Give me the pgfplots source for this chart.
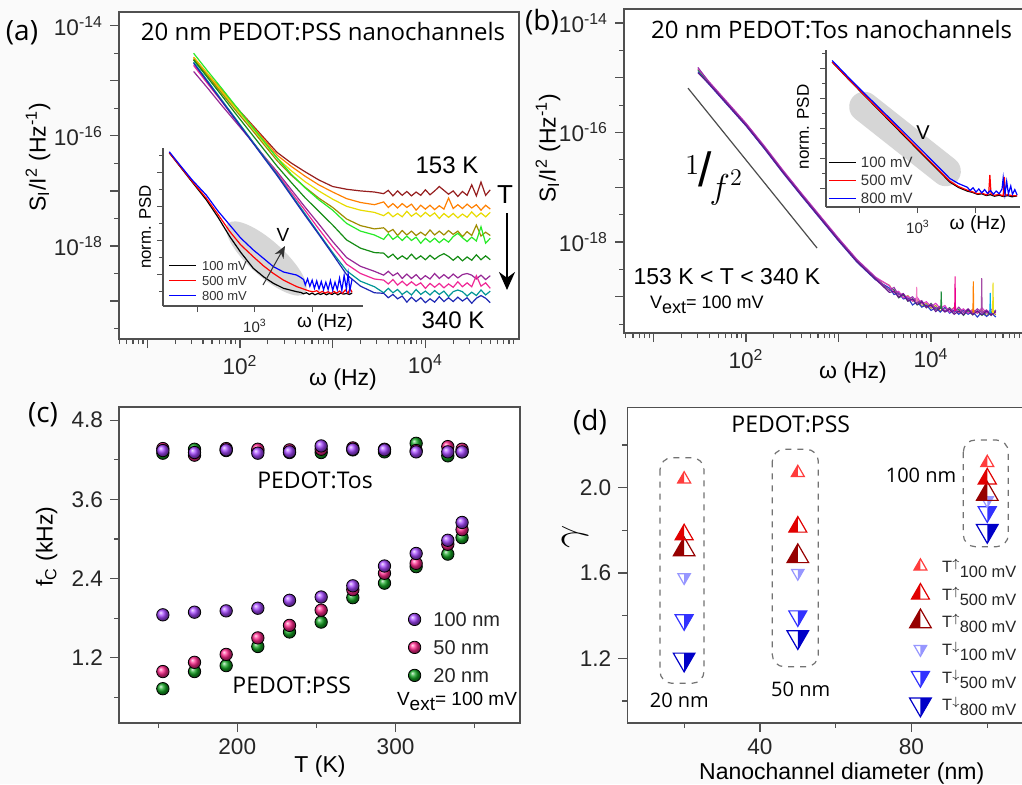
\documentclass[border=0pt]{standalone}
\usepackage{fontspec}
\setmainfont{Liberation Sans}
\newfontfamily\osans{Open Sans}
\usepackage{pgfplots}
\usepackage{pgfplotstable}
\pgfplotsset{compat=1.18}
\usetikzlibrary{arrows.meta,shapes.geometric}
\newcommand{\fs}[1]{\fontsize{#1}{#1}\selectfont}

\definecolor{axgray}{RGB}{80,80,80}
\definecolor{ca1}{RGB}{150,30,30}
\definecolor{ca2}{RGB}{255,128,0}
\definecolor{ca3}{RGB}{232,220,0}
\definecolor{ca4}{RGB}{160,140,0}
\definecolor{ca5}{RGB}{40,235,40}
\definecolor{ca6}{RGB}{20,140,20}
\definecolor{ca7}{RGB}{150,40,150}
\definecolor{ca8}{RGB}{240,40,150}
\definecolor{ca9}{RGB}{0,150,150}
\definecolor{ca10}{RGB}{30,40,180}
\definecolor{cb1}{RGB}{150,50,170}
\definecolor{cb2}{RGB}{40,60,200}
\definecolor{cb3}{RGB}{30,140,60}
\definecolor{cb4}{RGB}{220,60,200}
\definecolor{cb5}{RGB}{100,20,140}
\definecolor{cb6}{RGB}{190,150,40}
\definecolor{cpur}{RGB}{165,70,255}
\definecolor{cpink}{RGB}{255,40,140}
\definecolor{cgrn}{RGB}{20,165,35}
\definecolor{u1}{RGB}{255,60,60}
\definecolor{u5}{RGB}{225,0,0}
\definecolor{u8}{RGB}{150,0,0}
\definecolor{d1}{RGB}{150,150,255}
\definecolor{d5}{RGB}{50,50,255}
\definecolor{d8}{RGB}{0,0,200}

% half filled triangles
\pgfdeclareplotmark{hup}{%
  \pgfpathmoveto{\pgfqpoint{0pt}{\pgfplotmarksize}}%
  \pgfpathlineto{\pgfqpoint{-0.866\pgfplotmarksize}{-0.5\pgfplotmarksize}}%
  \pgfpathlineto{\pgfqpoint{0pt}{-0.5\pgfplotmarksize}}%
  \pgfpathclose
  \pgfusepathqfill
  \pgfpathmoveto{\pgfqpoint{0pt}{\pgfplotmarksize}}%
  \pgfpathlineto{\pgfqpoint{-0.866\pgfplotmarksize}{-0.5\pgfplotmarksize}}%
  \pgfpathlineto{\pgfqpoint{0.866\pgfplotmarksize}{-0.5\pgfplotmarksize}}%
  \pgfpathclose
  \pgfusepathqstroke}
\pgfdeclareplotmark{hdown}{%
  \pgfpathmoveto{\pgfqpoint{0pt}{-\pgfplotmarksize}}%
  \pgfpathlineto{\pgfqpoint{0.866\pgfplotmarksize}{0.5\pgfplotmarksize}}%
  \pgfpathlineto{\pgfqpoint{0pt}{0.5\pgfplotmarksize}}%
  \pgfpathclose
  \pgfusepathqfill
  \pgfpathmoveto{\pgfqpoint{0pt}{-\pgfplotmarksize}}%
  \pgfpathlineto{\pgfqpoint{-0.866\pgfplotmarksize}{0.5\pgfplotmarksize}}%
  \pgfpathlineto{\pgfqpoint{0.866\pgfplotmarksize}{0.5\pgfplotmarksize}}%
  \pgfpathclose
  \pgfusepathqstroke}

\tikzset{px/.style={x=0.5pt,y=-0.5pt,shift={(0pt,392pt)}}}

\pgfplotsset{
  panel/.style={scale only axis, anchor=south west,
    axis line style={draw=axgray, line width=0.8pt},
    every tick/.style={draw=axgray, line width=0.6pt},
    tick align=outside, tick pos=left,
    major tick length=4.5pt, minor tick length=2.5pt,
    tick label style={font=\fs{11.3}, text=black!85},
    axis background/.style={fill=white}},
  inset/.style={scale only axis, anchor=south west,
    axis x line*=bottom, axis y line*=left,
    x axis line style={-}, y axis line style={-},
    axis line style={draw=axgray, line width=0.6pt},
    every tick/.style={draw=axgray, line width=0.5pt},
    tick align=outside,
    major tick length=3pt, minor tick length=1.8pt,
    tick label style={font=\fs{7.5}, text=black!85},
    legend cell align=left,
    legend image code/.code={\draw[#1, line width=0.8pt] (0pt,0pt) -- (13.5pt,0pt);}},
  ballc/.style={only marks, mark=ball, mark size=3.1pt, ball color=#1},
}

% (a) log10 of frequency vs log10 of S_I/I^2, 153 K ... 340 K
\pgfplotstableread{
x c1 c2 c3 c4 c5 c6 c7 c8 c9 c10
1.50 -14.62 -14.57 -14.58 -14.60 -14.50 -14.62 -14.83 -14.72 -14.66 -14.68
1.65 -14.90 -14.87 -14.88 -14.91 -14.82 -14.94 -15.13 -15.05 -15.00 -15.02
1.80 -15.18 -15.16 -15.19 -15.22 -15.13 -15.26 -15.44 -15.37 -15.34 -15.36
1.95 -15.46 -15.46 -15.49 -15.53 -15.45 -15.59 -15.74 -15.70 -15.68 -15.70
2.10 -15.74 -15.76 -15.79 -15.83 -15.77 -15.91 -16.04 -16.03 -16.02 -16.04
2.25 -16.02 -16.05 -16.10 -16.14 -16.08 -16.23 -16.35 -16.35 -16.36 -16.38
2.40 -16.30 -16.35 -16.40 -16.45 -16.40 -16.55 -16.65 -16.68 -16.70 -16.72
2.55 -16.49 -16.55 -16.63 -16.71 -16.69 -16.84 -16.97 -17.02 -17.06 -17.08
2.70 -16.65 -16.73 -16.83 -16.93 -16.94 -17.12 -17.29 -17.35 -17.41 -17.44
2.85 -16.80 -16.89 -17.00 -17.13 -17.16 -17.37 -17.60 -17.69 -17.77 -17.79
3.00 -16.92 -17.02 -17.15 -17.30 -17.35 -17.62 -17.92 -18.02 -18.12 -18.15
3.15 -16.97 -17.14 -17.28 -17.51 -17.59 -17.89 -18.21 -18.33 -18.45 -18.52
3.30 -17.00 -17.21 -17.35 -17.63 -17.73 -18.04 -18.37 -18.50 -18.64 -18.73
3.45 -17.02 -17.25 -17.39 -17.69 -17.80 -18.12 -18.46 -18.60 -18.74 -18.85
3.55 -17.05 -17.20 -17.45 -17.67 -17.88 -18.13 -18.53 -18.62 -18.85 -18.86
3.60 -16.99 -17.30 -17.39 -17.75 -17.78 -18.21 -18.46 -18.69 -18.77 -18.94
3.65 -17.09 -17.23 -17.47 -17.70 -17.88 -18.15 -18.54 -18.61 -18.85 -18.88
3.70 -17.00 -17.31 -17.41 -17.81 -17.82 -18.24 -18.49 -18.71 -18.79 -18.96
3.75 -17.08 -17.23 -17.47 -17.72 -17.90 -18.18 -18.59 -18.64 -18.88 -18.91
3.80 -17.01 -17.30 -17.37 -17.80 -17.82 -18.24 -18.51 -18.72 -18.82 -19.02
3.85 -17.09 -17.24 -17.46 -17.73 -17.90 -18.15 -18.59 -18.65 -18.89 -18.93
3.90 -17.02 -17.35 -17.40 -17.81 -17.84 -18.24 -18.52 -18.72 -18.79 -19.01
3.95 -17.08 -17.26 -17.47 -17.75 -17.95 -18.18 -18.61 -18.67 -18.88 -18.94
4.00 -16.98 -17.33 -17.39 -17.81 -17.86 -18.25 -18.54 -18.77 -18.82 -19.03
4.05 -17.07 -17.26 -17.46 -17.71 -17.93 -18.17 -18.60 -18.68 -18.89 -18.96
4.10 -17.00 -17.34 -17.40 -17.80 -17.86 -18.24 -18.50 -18.75 -18.81 -19.02
4.15 -16.92 -17.27 -17.50 -17.73 -17.94 -18.18 -18.59 -18.68 -18.88 -18.92
4.20 -16.99 -17.33 -17.41 -17.80 -17.87 -18.14 -18.52 -18.76 -18.82 -19.01
4.25 -17.06 -17.13 -17.48 -17.72 -17.93 -18.19 -18.59 -18.69 -18.92 -18.94
4.30 -17.00 -17.32 -17.41 -17.79 -17.83 -18.26 -18.51 -18.75 -18.83 -19.01
4.35 -17.10 -17.25 -17.49 -17.73 -17.77 -18.19 -18.58 -18.65 -18.80 -18.93
4.40 -17.01 -17.32 -17.42 -17.83 -17.85 -18.27 -18.52 -18.74 -18.83 -19.00
4.45 -17.08 -17.24 -17.48 -17.74 -17.92 -18.20 -18.50 -18.67 -18.91 -18.94
4.50 -16.89 -17.31 -17.38 -17.81 -17.84 -18.26 -18.53 -18.74 -18.84 -19.04
4.55 -17.09 -17.25 -17.47 -17.62 -17.91 -18.16 -18.60 -18.54 -18.90 -18.95
4.60 -16.84 -17.35 -17.40 -17.82 -17.65 -18.25 -18.53 -18.73 -18.80 -18.90
4.65 -17.08 -17.26 -17.47 -17.75 -17.95 -18.18 -18.61 -18.67 -18.89 -18.95
4.70 -16.98 -17.33 -17.39 -17.81 -17.86 -18.25 -18.54 -18.77 -18.82 -19.03
}\tabA

% (b) PEDOT:Tos, several temperatures
\pgfplotstableread{
x b1 b2 b3 b4 b5 b6
1.48 -14.81 -14.89 -14.86 -14.83 -14.91 -14.84
1.60 -15.08 -15.12 -15.10 -15.07 -15.11 -15.09
1.80 -15.46 -15.50 -15.48 -15.45 -15.49 -15.47
2.00 -15.84 -15.88 -15.86 -15.83 -15.87 -15.85
2.20 -16.26 -16.30 -16.29 -16.25 -16.29 -16.27
2.40 -16.70 -16.74 -16.72 -16.69 -16.73 -16.71
2.60 -17.12 -17.16 -17.14 -17.11 -17.15 -17.13
2.80 -17.53 -17.57 -17.55 -17.52 -17.56 -17.54
3.00 -17.94 -17.98 -17.96 -17.93 -17.97 -17.95
3.20 -18.33 -18.37 -18.35 -18.32 -18.36 -18.34
3.40 -18.65 -18.69 -18.67 -18.64 -18.68 -18.66
3.55 -18.88 -18.84 -18.88 -18.80 -18.92 -18.79
3.60 -18.83 -18.96 -18.87 -18.92 -18.90 -18.93
3.65 -18.97 -18.93 -19.02 -18.90 -19.01 -18.91
3.70 -18.94 -19.04 -18.97 -19.02 -18.95 -19.02
3.75 -19.05 -19.02 -19.08 -18.99 -19.08 -18.98
3.80 -19.00 -19.15 -19.04 -19.08 -19.04 -19.08
3.85 -19.10 -19.09 -19.15 -19.01 -19.14 -19.05
3.90 -19.07 -19.19 -19.11 -19.13 -19.09 -19.18
3.95 -19.20 -19.15 -19.20 -19.09 -19.19 -19.12
4.00 -19.13 -19.25 -19.12 -19.18 -19.15 -19.21
4.05 -19.22 -19.20 -19.23 -19.12 -19.27 -19.16
4.10 -19.17 -19.28 -19.18 -19.21 -19.20 -19.26
4.15 -19.26 -19.19 -19.26 -19.16 -19.28 -19.20
4.20 -19.21 -19.30 -19.20 -19.28 -19.23 -19.28
4.25 -19.28 -19.24 -19.28 -19.20 -19.32 -19.19
4.30 -19.19 -19.32 -19.23 -19.28 -19.26 -19.29
4.35 -19.29 -19.25 -19.34 -19.22 -19.33 -19.23
4.40 -19.22 -19.32 -19.25 -19.30 -19.23 -19.30
4.45 -19.30 -19.27 -19.33 -19.24 -19.33 -19.23
4.50 -19.22 -19.37 -19.26 -19.30 -19.26 -19.30
4.55 -19.29 -19.28 -19.34 -19.20 -19.33 -19.24
4.60 -19.24 -19.36 -19.28 -19.30 -19.26 -19.35
4.65 -19.34 -19.29 -19.34 -19.23 -19.33 -19.26
4.70 -19.25 -19.37 -19.24 -19.30 -19.27 -19.33
}\tabB

% (c) corner frequency (kHz) vs T (K)
\pgfplotstableread{
T tos100 tos50 tos20 pss100 pss50 pss20
153 4.34 4.37 4.30 1.85 0.99 0.73
173 4.31 4.27 4.36 1.89 1.13 0.99
193 4.35 4.37 4.34 1.91 1.25 1.08
213 4.30 4.36 4.34 1.95 1.50 1.37
233 4.32 4.35 4.31 2.07 1.69 1.59
253 4.41 4.36 4.31 2.12 1.92 1.74
273 4.36 4.38 4.35 2.29 2.23 2.11
293 4.35 4.36 4.32 2.59 2.48 2.33
313 4.32 4.34 4.45 2.78 2.63 2.58
333 4.32 4.40 4.26 2.98 2.92 2.77
342 4.32 4.36 4.32 3.25 3.14 3.02
}\tabC

% (d) gamma vs nanochannel diameter
\pgfplotstableread{
d up100 up500 up800 dn100 dn500 dn800
20 2.040 1.780 1.710 1.580 1.380 1.195
50 2.070 1.816 1.678 1.600 1.398 1.300
100 2.117 2.042 1.970 1.941 1.886 1.798
}\tabD

\begin{document}
\begin{tikzpicture}
\fill[black!2] (0,0) rectangle (511pt,392pt);
\useasboundingbox (0,0) rectangle (511pt,392pt);

% ---------------- (a)
\begin{axis}[panel, at={(59.5pt,222.5pt)}, width=200pt, height=163.5pt,
  xmin=0.695, xmax=5.01, ymin=-19.69, ymax=-13.75,
  xtick={1,2,3,4}, xticklabels={,10\textsuperscript{2},,10\textsuperscript{4}},
  minor xtick={0.699,0.778,0.845,0.903,0.954,1.301,1.477,1.602,1.699,1.778,1.845,1.903,1.954,2.301,2.477,2.602,2.699,2.778,2.845,2.903,2.954,3.301,3.477,3.602,3.699,3.778,3.845,3.903,3.954,4.301,4.477,4.602,4.699,4.778,4.845,4.903,4.954},
  ytick={-19,-18,-17,-16,-15,-14},
  yticklabels={,10\textsuperscript{-18},,10\textsuperscript{-16},,10\textsuperscript{-14}},
  minor ytick={-19.5,-18.5,-17.5,-16.5,-15.5,-14.5}]
\addplot[ca1, line width=0.6pt] table[x=x,y=c1]{\tabA};
\addplot[ca2, line width=0.6pt] table[x=x,y=c2]{\tabA};
\addplot[ca3, line width=0.6pt] table[x=x,y=c3]{\tabA};
\addplot[ca4, line width=0.6pt] table[x=x,y=c4]{\tabA};
\addplot[ca5, line width=0.6pt] table[x=x,y=c5]{\tabA};
\addplot[ca6, line width=0.6pt] table[x=x,y=c6]{\tabA};
\addplot[ca7, line width=0.6pt] table[x=x,y=c7]{\tabA};
\addplot[ca8, line width=0.6pt] table[x=x,y=c8]{\tabA};
\addplot[ca9, line width=0.6pt] table[x=x,y=c9]{\tabA};
\addplot[ca10, line width=0.6pt] table[x=x,y=c10]{\tabA};
\end{axis}

\begin{scope}[px]
\node[ellipse, fill=black!16, minimum width=52pt, minimum height=17.5pt, inner sep=0pt, rotate=-42] at (266.5,258.5) {};
\end{scope}

% inset (a)
\begin{axis}[inset, at={(81.5pt,239pt)}, width=100pt, height=79pt,
  xmin=1.39, xmax=4.89, ymin=0, ymax=4.65,
  xtick={2,3,4}, xticklabels={,10\textsuperscript{3},},
  ytick={0.92,1.92,2.92,3.92}, yticklabels={},
  minor ytick={0.42,1.42,2.42,3.42,4.42},
  legend style={at={(axis cs:1.478,1.418)}, anchor=north west, draw=none, fill=none,
    inner sep=0pt, font=\fs{6.5}, text=black!80, row sep=0.3pt, column sep=2pt,
    nodes={inner sep=0.5pt, text height=5.4pt, text depth=0.8pt}}]
\addplot[black, line width=0.6pt] coordinates {(1.50,4.51)(1.70,4.08)(1.90,3.65)(2.15,3.12)(2.35,2.62)(2.56,2.04)(2.75,1.58)(2.97,1.11)(3.15,0.86)(3.32,0.67)(3.50,0.52)(3.73,0.42)(3.80,0.40)(3.85,0.36)(3.90,0.39)(3.95,0.34)(4.00,0.38)(4.05,0.33)(4.10,0.37)(4.15,0.34)(4.20,0.38)(4.25,0.33)(4.30,0.37)(4.35,0.34)(4.40,0.39)(4.45,0.33)(4.50,0.38)(4.55,0.35)(4.60,0.37)(4.65,0.34)(4.70,0.38)};
\addlegendentry{100 mV}
\addplot[red, line width=0.6pt] coordinates {(1.50,4.51)(1.70,4.09)(1.90,3.67)(2.15,3.17)(2.35,2.70)(2.56,2.19)(2.75,1.80)(2.97,1.45)(3.15,1.18)(3.32,0.96)(3.50,0.76)(3.73,0.57)(3.85,0.50)(3.95,0.44)(4.02,0.42)(4.08,0.45)(4.13,0.39)(4.18,0.43)(4.23,0.38)(4.28,0.42)(4.33,0.37)(4.38,0.43)(4.43,0.38)(4.48,0.44)(4.53,0.37)(4.58,0.47)(4.63,0.38)(4.66,0.52)(4.70,0.40)};
\addlegendentry{500 mV}
\addplot[blue, line width=0.6pt] coordinates {(1.50,4.54)(1.70,4.12)(1.90,3.71)(2.15,3.26)(2.35,2.80)(2.56,2.38)(2.75,2.00)(2.97,1.65)(3.15,1.40)(3.32,1.16)(3.50,1.00)(3.73,0.91)(3.80,0.84)(3.85,0.78)(3.88,0.62)(3.92,0.80)(3.96,0.58)(4.00,0.76)(4.04,0.52)(4.08,0.74)(4.12,0.50)(4.16,0.72)(4.20,0.48)(4.24,0.70)(4.28,0.48)(4.32,0.75)(4.36,0.46)(4.40,0.70)(4.44,0.48)(4.48,0.82)(4.52,0.46)(4.56,0.90)(4.60,0.50)(4.63,0.95)(4.66,0.45)(4.70,0.80)};
\addlegendentry{800 mV}
\end{axis}

% ---------------- (b)
\begin{axis}[panel, at={(312pt,225.5pt)}, width=200pt, height=162pt,
  xmin=0.681, xmax=5.005, ymin=-19.662, ymax=-13.744,
  xtick={1,2,3,4}, xticklabels={,10\textsuperscript{2},,10\textsuperscript{4}},
  minor xtick={0.699,0.778,0.845,0.903,0.954,1.301,1.477,1.602,1.699,1.778,1.845,1.903,1.954,2.301,2.477,2.602,2.699,2.778,2.845,2.903,2.954,3.301,3.477,3.602,3.699,3.778,3.845,3.903,3.954,4.301,4.477,4.602,4.699,4.778,4.845,4.903,4.954},
  ytick={-19,-18,-17,-16,-15,-14},
  yticklabels={,10\textsuperscript{-18},,10\textsuperscript{-16},,10\textsuperscript{-14}},
  minor ytick={-19.5,-18.5,-17.5,-16.5,-15.5,-14.5}]
\addplot[gray!60!black, line width=0.6pt] coordinates {(1.373,-15.19)(2.768,-18.11)};
\addplot[cb6, line width=0.55pt] table[x=x,y=b6]{\tabB};
\addplot[cb3, line width=0.55pt] table[x=x,y=b3]{\tabB};
\addplot[cb2, line width=0.55pt] table[x=x,y=b2]{\tabB};
\addplot[cb4, line width=0.55pt] table[x=x,y=b4]{\tabB};
\addplot[cb1, line width=0.55pt] table[x=x,y=b1]{\tabB};
\addplot[cb5, line width=0.55pt] table[x=x,y=b5]{\tabB};
\addplot[magenta!50, line width=0.5pt] coordinates {(3.840,-19.10)(3.845,-18.82)(3.850,-19.10)};
\addplot[cb3, line width=0.5pt] coordinates {(4.105,-19.22)(4.110,-18.90)(4.115,-19.22)};
\addplot[magenta, line width=0.5pt] coordinates {(4.255,-19.26)(4.260,-18.63)(4.265,-19.26)};
\addplot[orange, line width=0.5pt] coordinates {(4.452,-19.29)(4.457,-18.72)(4.462,-19.29)};
\addplot[violet!70, line width=0.5pt] coordinates {(4.543,-19.29)(4.548,-18.66)(4.553,-19.29)};
\addplot[cyan, line width=0.5pt] coordinates {(4.635,-19.30)(4.640,-18.93)(4.645,-19.30)};
\addplot[yellow!90!black, line width=0.5pt] coordinates {(4.665,-19.30)(4.670,-18.74)(4.675,-19.30)};
\end{axis}

\begin{scope}[px]
\node[fill=black!16, rounded corners=7.5pt, minimum width=67pt, minimum height=15pt, inner sep=0pt, rotate=-38.3] at (905,139) {};
\end{scope}

% inset (b)
\begin{axis}[inset, at={(413pt,288.5pt)}, width=97pt, height=78.5pt,
  xmin=1.414, xmax=4.76, ymin=0, ymax=5.23,
  xtick={2,3,4}, xticklabels={,10\textsuperscript{3},},
  ytick={0.6,1.6,2.6,3.6,4.6}, yticklabels={},
  minor ytick={1.1,2.1,3.1,4.1,5.1},
  legend style={at={(axis cs:1.448,1.77)}, anchor=north west, draw=none, fill=none,
    inner sep=0pt, font=\fs{7.5}, text=black!80, row sep=0.9pt, column sep=1.5pt,
    nodes={inner sep=0.5pt, text height=6.25pt, text depth=0.85pt}}]
\addplot[black, line width=0.6pt] coordinates {(1.52,4.83)(1.80,4.26)(2.10,3.67)(2.40,3.08)(2.70,2.49)(3.00,1.90)(3.30,1.32)(3.55,0.83)(3.70,0.65)(3.85,0.53)(3.95,0.48)(4.03,0.42)(4.10,0.44)(4.18,0.38)(4.25,0.41)(4.32,0.36)(4.40,0.39)(4.47,0.35)(4.55,0.38)(4.62,0.34)(4.71,0.37)};
\addlegendentry{100 mV}
\addplot[red, line width=0.6pt] coordinates {(1.52,4.83)(1.80,4.27)(2.10,3.68)(2.40,3.10)(2.70,2.52)(3.00,1.93)(3.30,1.35)(3.55,0.86)(3.70,0.68)(3.85,0.56)(3.95,0.50)(4.03,0.44)(4.10,0.47)(4.18,0.40)(4.22,0.45)(4.24,1.07)(4.26,0.44)(4.32,0.39)(4.40,0.42)(4.47,0.37)(4.49,1.00)(4.51,0.39)(4.55,0.41)(4.62,0.38)(4.71,0.37)};
\addlegendentry{500 mV}
\addplot[blue, line width=0.6pt] coordinates {(1.52,4.88)(1.80,4.32)(2.10,3.74)(2.40,3.17)(2.70,2.60)(3.00,2.02)(3.30,1.44)(3.55,0.95)(3.70,0.78)(3.85,0.66)(3.90,0.55)(3.95,0.64)(4.00,0.50)(4.05,0.60)(4.10,0.47)(4.15,0.58)(4.20,0.45)(4.25,0.55)(4.30,0.43)(4.35,0.53)(4.40,0.44)(4.45,0.60)(4.47,0.97)(4.50,0.42)(4.53,0.85)(4.56,0.44)(4.60,0.70)(4.63,0.42)(4.67,0.58)(4.71,0.40)};
\addlegendentry{800 mV}
\end{axis}

% ---------------- (c)
\begin{axis}[panel, at={(59.5pt,30.5pt)}, width=200.5pt, height=158pt,
  xmin=125.3, xmax=378.6, ymin=0.21, ymax=5.0,
  xtick={200,300}, xticklabels={200,300}, minor xtick={150,250,350},
  ytick={1.2,2.4,3.6,4.8}, yticklabels={1.2,2.4,3.6,4.8},
  minor ytick={0.6,1.8,3.0,4.2},
  reverse legend, legend cell align=left,
  legend image code/.code={\draw[#1] plot coordinates {(0pt,0pt)};},
  legend style={at={(axis cs:307.6,1.961)}, anchor=north west, draw=none, fill=none,
    inner sep=0pt, font=\fs{10}, text=black!85, row sep=2.5pt, column sep=5.6pt,
    nodes={inner sep=0.5pt, text height=9.05pt, text depth=1.45pt}}]
\addplot[ballc=cgrn, forget plot] table[x=T,y=tos20]{\tabC};
\addplot[ballc=cpink, forget plot] table[x=T,y=tos50]{\tabC};
\addplot[ballc=cpur, forget plot] table[x=T,y=tos100]{\tabC};
\addplot[ballc=cgrn] table[x=T,y=pss20]{\tabC};
\addlegendentry{20 nm}
\addplot[ballc=cpink] table[x=T,y=pss50]{\tabC};
\addlegendentry{50 nm}
\addplot[ballc=cpur] table[x=T,y=pss100]{\tabC};
\addlegendentry{100 nm}
\end{axis}

% ---------------- (d)
\begin{axis}[panel, at={(313.65pt,30.65pt)}, width=198.35pt, height=157.7pt,
  xmin=5, xmax=109.7, ymin=0.898, ymax=2.377,
  xtick={40,80}, xticklabels={40,80}, minor xtick={20,60,100},
  ytick={1.2,1.6,2.0}, yticklabels={1.2,1.6,2.0},
  minor ytick={1.0,1.4,1.8,2.2},
  reverse legend, legend cell align=left,
  legend image code/.code={\draw[#1] plot coordinates {(0pt,0pt)};},
  legend style={at={(axis cs:79.4,1.697)}, anchor=north west, draw=none, fill=none,
    inner sep=0pt, font=\fs{8.2}, text=black!85, row sep=0.2pt, column sep=4.95pt,
    nodes={inner sep=0.5pt, text height=9.5pt, text depth=3.1pt}}]
\addplot[only marks, mark=hdown, mark size=6.25pt, color=d8, line width=0.6pt] table[x=d,y=dn800]{\tabD};
\addlegendentry{T\raisebox{2.5pt}{\fs{6}$\downarrow$}\raisebox{-2.5pt}{800 mV}}
\addplot[only marks, mark=hdown, mark size=5.2pt, color=d5, line width=0.6pt] table[x=d,y=dn500]{\tabD};
\addlegendentry{T\raisebox{2.5pt}{\fs{6}$\downarrow$}\raisebox{-2.5pt}{500 mV}}
\addplot[only marks, mark=hdown, mark size=3.6pt, color=d1, line width=0.6pt] table[x=d,y=dn100]{\tabD};
\addlegendentry{T\raisebox{2.5pt}{\fs{6}$\downarrow$}\raisebox{-2.5pt}{100 mV}}
\addplot[only marks, mark=hup, mark size=6.25pt, color=u8, line width=0.6pt] table[x=d,y=up800]{\tabD};
\addlegendentry{T\raisebox{2.5pt}{\fs{6}$\uparrow$}\raisebox{-2.5pt}{800 mV}}
\addplot[only marks, mark=hup, mark size=5.2pt, color=u5, line width=0.6pt] table[x=d,y=up500]{\tabD};
\addlegendentry{T\raisebox{2.5pt}{\fs{6}$\uparrow$}\raisebox{-2.5pt}{500 mV}}
\addplot[only marks, mark=hup, mark size=3.75pt, color=u1, line width=0.6pt] table[x=d,y=up100]{\tabD};
\addlegendentry{T\raisebox{2.5pt}{\fs{6}$\uparrow$}\raisebox{-2.5pt}{100 mV}}
\end{axis}

% ---------------- texts and annotations (pixel coordinates of the reference)
\begin{scope}[px]
% panel letters
\node[font=\osans\fs{14}] at (22,33) {(a)};
\node[font=\osans\fs{14}] at (542,22) {(b)};
\node[font=\osans\fs{14}] at (43,415) {(c)};
\node[font=\osans\fs{14}] at (590,422) {(d)};
% (a)
\node[font=\osans\fs{12}] at (323,32) {20 nm PEDOT:PSS nanochannels};
\node[rotate=90, font=\fs{11.5}] at (38,157) {S\textsubscript{I}/I\textsuperscript{2} (Hz\textsuperscript{-1})};
\node[font=\fs{11.5}] at (343,380) {ω (Hz)};
\node[font=\fs{12}] at (447,165) {153 K};
\node[font=\fs{12}] at (453,320) {340 K};
\node[font=\fs{13}] at (505,195) {T};
\draw[-{Stealth[length=9pt,width=8pt]}, line width=1pt] (507,213) -- (507,290);
\node[rotate=90, font=\fs{8.4}] at (145,227) {norm. PSD};
\node[font=\fs{9.5}] at (283,235) {V};
\node[font=\fs{9.5}] at (325,323) {ω (Hz)};
\draw[-{Stealth[length=6pt,width=5pt]}, line width=0.5pt, black!80] (263,285) -- (285,246);
% (b)
\node[font=\osans\fs{12}] at (831.7,30) {20 nm PEDOT:Tos nanochannels};
\node[rotate=90, font=\fs{11.5}] at (548,148) {S\textsubscript{I}/I\textsuperscript{2} (Hz\textsuperscript{-1})};
\node[font=\fs{11.5}] at (853,373) {ω (Hz)};
\node at (714,178) {\fs{14}\raisebox{6pt}{$1$}\kern-0.5pt{\fs{24}/}\kern-1pt\raisebox{-6pt}{\fs{17}$f^{2}$}};
\node[font=\fs{11.5}] at (727,277) {153 K < T < 340 K};
\node[font=\fs{9}, anchor=west] at (643,305) {V\raisebox{-2.5pt}{ext}= 100 mV};
\node[rotate=90, font=\fs{8.5}] at (803,127) {norm. PSD};
\node[font=\fs{10}] at (923,133) {V};
\node[font=\fs{9.6}] at (978,225) {ω (Hz)};
% (c)
\node[rotate=90, font=\fs{11.5}] at (46.7,546.7) {f\textsubscript{C} (kHz)};
\node[font=\fs{11.5}] at (320,766.7) {T (K)};
\node[font=\osans\fs{11.5}] at (315,480) {PEDOT:Tos};
\node[font=\osans\fs{11.5}] at (291.7,685) {PEDOT:PSS};
\node[font=\fs{9.5}, anchor=west] at (390,701.7) {V\raisebox{-2.5pt}{ext}= 100 mV};
% (d)
\node[rotate=90, font=\fs{20}] at (575,536.7) {$\gamma$};
\node[font=\fs{11.5}] at (841.7,773.3) {Nanochannel diameter (nm)};
\node[font=\osans\fs{11.5}] at (790.7,424) {PEDOT:PSS};
\node[font=\osans\fs{10}] at (679.3,700) {20 nm};
\node[font=\osans\fs{10}] at (800.7,689.3) {50 nm};
\node[font=\osans\fs{10}] at (921,475) {100 nm};
\draw[black!55, dashed, rounded corners=6pt, line width=0.6pt] (660,457.7) rectangle (704,683.3);
\draw[black!55, dashed, rounded corners=6pt, line width=0.6pt] (772.3,449.3) rectangle (818.3,666.7);
\draw[black!55, dashed, rounded corners=6pt, line width=0.6pt] (963.3,440) rectangle (1008.3,546.7);
\end{scope}
\end{tikzpicture}
\end{document}
